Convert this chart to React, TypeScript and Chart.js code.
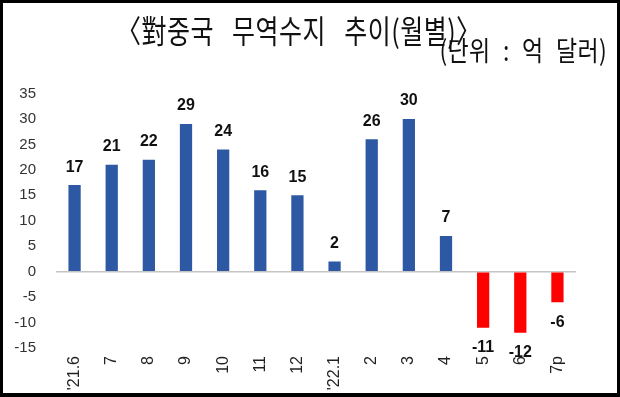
import React, { useEffect, useRef } from "react";
import { Chart, registerables } from "chart.js";

Chart.register(...registerables);

const categories = ["'21.6", "7", "8", "9", "10", "11", "12", "'22.1", "2", "3", "4", "5", "6", "7p"];
const balance = [17, 21, 22, 29, 24, 16, 15, 2, 26, 30, 7, -11, -12, -6];
const yTicks = { min: -15, max: 35, step: 5 };
const titleText = "〈對중국 무역수지 추이(월별)〉";
const unitText = "(단위 : 억 달러)";

const BLUE = "#2d58a3";
const RED = "#ff0000";

const valueLabels = {
  id: "valueLabels",
  afterDatasetsDraw(chart: any) {
    const ctx = chart.ctx;
    const meta = chart.getDatasetMeta(0);
    const data = chart.data.datasets[0].data as number[];
    ctx.save();
    ctx.font = "bold 16px 'Liberation Sans', Arial, sans-serif";
    ctx.fillStyle = "#111";
    ctx.textAlign = "center";
    meta.data.forEach((el: any, i: number) => {
      const v = data[i];
      if (v >= 0) {
        ctx.textBaseline = "bottom";
        ctx.fillText(String(v), el.x, el.y - 10);
      } else {
        ctx.textBaseline = "top";
        ctx.fillText(String(v), el.x, el.y + 12);
      }
    });
    ctx.restore();
  },
};

export default function App() {
  const ref = useRef<HTMLCanvasElement>(null);
  useEffect(() => {
    if (!ref.current) return;
    const chart = new Chart(ref.current, {
      type: "bar",
      data: {
        labels: categories,
        datasets: [
          {
            data: balance,
            backgroundColor: balance.map((v) => (v >= 0 ? BLUE : RED)),
            barPercentage: 0.33,
            categoryPercentage: 1,
          },
        ],
      },
      options: {
        animation: false,
        responsive: false,
        maintainAspectRatio: false,
        layout: { padding: { top: 93.5, right: 44, bottom: 0, left: 0 } },
        plugins: {
          legend: { display: false },
          tooltip: { enabled: false },
          title: { display: false },
        },
        scales: {
          x: {
            grid: { display: false, drawTicks: false },
            border: { display: false },
            ticks: {
              minRotation: 90,
              maxRotation: 90,
              autoSkip: false,
              padding: 8,
              color: "#222",
              font: { size: 16, family: "'Liberation Sans', Arial, sans-serif" },
            },
            afterFit(scale: any) {
              scale.height = 49;
            },
          },
          y: {
            min: yTicks.min,
            max: yTicks.max,
            ticks: {
              stepSize: yTicks.step,
              padding: 20,
              color: "#333",
              font: { size: 15, family: "'Liberation Sans', Arial, sans-serif" },
            },
            grid: {
              drawTicks: false,
              lineWidth: 1.5,
              color: (c: any) => (c.tick && c.tick.value === 0 ? "#c4c4c4" : "rgba(0,0,0,0)"),
            },
            border: { display: false },
            afterFit(scale: any) {
              scale.width = 56;
            },
          },
        },
      },
      plugins: [valueLabels],
    });
    return () => chart.destroy();
  }, []);

  return (
    <div
      style={{
        position: "fixed",
        left: 0,
        top: 0,
        width: 620,
        height: 397,
        background: "#fff",
        overflow: "hidden",
      }}
    >
      <canvas ref={ref} width={620} height={397} style={{ position: "absolute", left: 0, top: 0 }} />
      <div
        style={{
          position: "absolute",
          left: 116,
          top: 10,
          fontFamily: "'Noto Sans CJK KR', sans-serif",
          fontSize: 25,
          lineHeight: "30px",
          color: "#111",
          whiteSpace: "nowrap",
          wordSpacing: 12,
          letterSpacing: 0.5,
          transform: "scaleY(1.25)",
          transformOrigin: "top left",
        }}
      >
        {titleText}
      </div>
      <div
        style={{
          position: "absolute",
          right: 13,
          top: 32,
          fontFamily: "'Noto Sans CJK KR', sans-serif",
          fontSize: 23,
          lineHeight: "28px",
          color: "#111",
          whiteSpace: "nowrap",
          wordSpacing: 7,
          letterSpacing: 0.3,
          transform: "scaleY(1.2)",
          transformOrigin: "top right",
        }}
      >
        {unitText}
      </div>
      <div
        style={{
          position: "absolute",
          left: 0,
          top: 0,
          width: 620,
          height: 397,
          boxSizing: "border-box",
          border: "3px solid #000",
          borderBottomWidth: 4,
          pointerEvents: "none",
        }}
      />
    </div>
  );
}
